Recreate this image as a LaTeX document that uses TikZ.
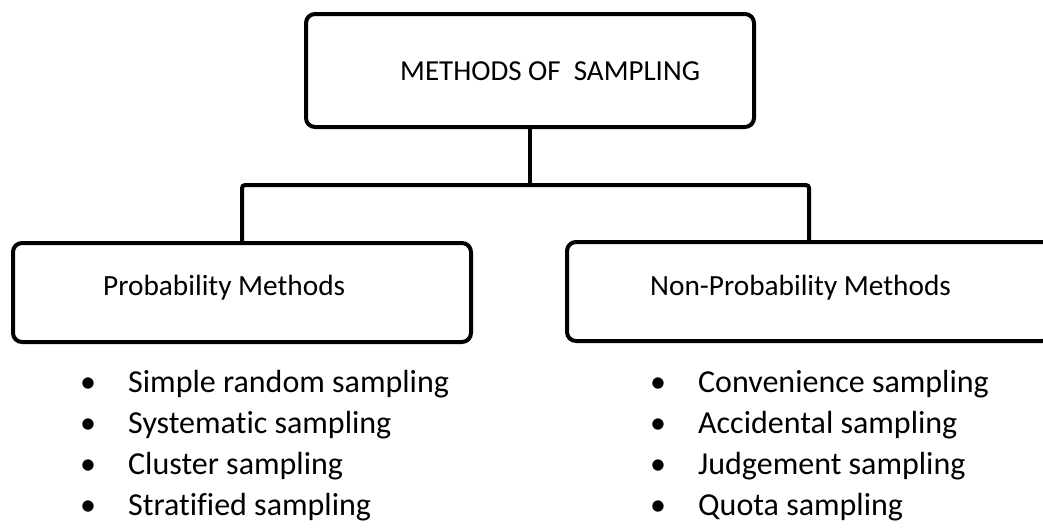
\documentclass[tikz,border=0pt]{standalone}
\usepackage{fontspec}
\setmainfont{Carlito}[Ligatures={NoCommon}]
\begin{document}
\begin{tikzpicture}[x=1pt,y=-1pt,
  box/.style={draw=black,line width=4pt,rounded corners=9pt,inner sep=0pt},
  conn/.style={draw=black,line width=4pt},
  title/.style={anchor=base west,inner sep=0pt,font=\fontsize{29}{33}\selectfont},
  head/.style={anchor=base west,inner sep=0pt,font=\fontsize{29.3}{33}\selectfont},
  item/.style={anchor=base west,inner sep=0pt,font=\fontsize{32}{38}\selectfont}]
\useasboundingbox (0,0) rectangle (1043,531);
\fill[white] (0,0) rectangle (1043,531);
% boxes
\node[box,minimum width=448pt,minimum height=113pt] (top) at (530,70.5) {};
\node[box,minimum width=458pt,minimum height=99pt] (left) at (242,292.5) {};
\node[box,minimum width=484pt,minimum height=99pt] (right) at (809,291.5) {};
% texts
\node[title] (ttop) at (400,80) {METHODS OF\ \ SAMPLING};
\node[head] (tleft) at (103,295) {Probability Methods};
\node[head] (tright) at (650,295) {Non-Probability Methods};
% connectors
\coordinate (j) at (530,185);
\draw[conn] (top.south) -- (j);
\draw[conn,rounded corners=3pt] (left.north) |- (j) -| (right.north);
% lists
\foreach \t [count=\i] in {Simple random sampling,Systematic sampling,Cluster sampling,Stratified sampling}
  \node[item] (l\i) at (80,351+41*\i) {\makebox[48pt][l]{•}\t};
\foreach \t [count=\i] in {Convenience sampling,Accidental sampling,Judgement sampling,Quota sampling}
  \node[item] (r\i) at (650,351+41*\i) {\makebox[48pt][l]{•}\t};
\end{tikzpicture}
\end{document}
